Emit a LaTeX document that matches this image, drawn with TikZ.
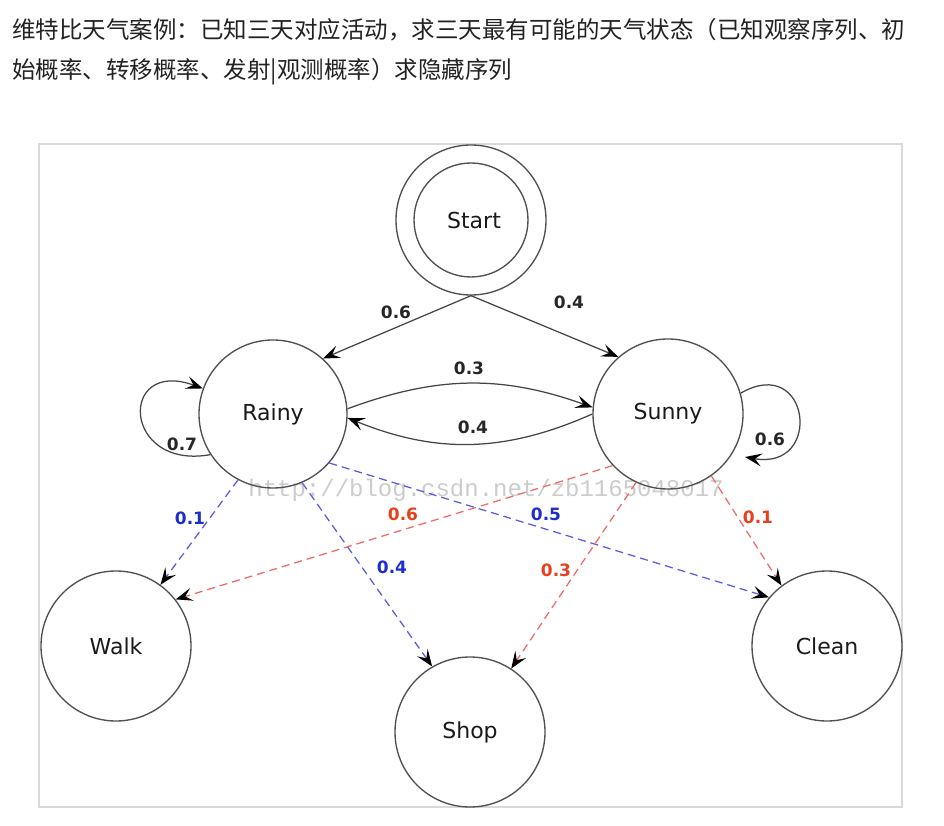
\documentclass[tikz,border=0pt]{standalone}
\usepackage{fontspec}
\setmainfont{DejaVu Sans}
\newfontfamily\cjk{Noto Sans CJK SC}
\newfontfamily\wmfont{Liberation Mono}
\usetikzlibrary{arrows.meta}
\definecolor{circ}{HTML}{505050}
\definecolor{edgec}{HTML}{454545}
\definecolor{blueline}{HTML}{5A5AE6}
\definecolor{redline}{HTML}{F06868}
\definecolor{bluelab}{HTML}{1E2ECC}
\definecolor{redlab}{HTML}{E8401C}
\definecolor{titlec}{HTML}{222222}
\tikzset{
  state/.style={circle, draw=circ, line width=1.35pt, minimum size=150pt, inner sep=0pt,
    font=\fontsize{22}{26}\selectfont, text=black!90},
  tipv/.style={-{Stealth[length=17pt,width=13pt,inset=7pt,color=black]}},
  edge/.style={draw=edgec, line width=1.25pt, tipv},
  blueem/.style={draw=blueline, line width=1.25pt, dash pattern=on 8pt off 5pt, tipv},
  redem/.style={draw=redline, line width=1.25pt, dash pattern=on 8pt off 5pt, tipv},
  lab/.style={inner sep=0pt, font=\fontsize{17}{20}\selectfont\bfseries, text=black!85},
  bluelabel/.style={lab, text=bluelab},
  redlabel/.style={lab, text=redlab},
}
\begin{document}
\begin{tikzpicture}[x=1pt,y=1pt]
\useasboundingbox (0,0) rectangle (944,825);
% title
\node[anchor=west, inner sep=0pt, text=titlec, font=\cjk\fontsize{23.5}{28}\selectfont] (t1) at (12,795)
  {维特比天气案例：已知三天对应活动，求三天最有可能的天气状态（已知观察序列、初};
\node[anchor=west, inner sep=0pt, text=titlec, font=\cjk\fontsize{23.5}{28}\selectfont] (t2) at (12,753)
  {始概率、转移概率、发射|观测概率）求隐藏序列};
% frame
\draw[draw=black!15, line width=1.5pt] (39,18) rectangle (902,681);
% watermark
\node[inner sep=0pt, text=black!20, font=\wmfont\fontsize{24}{24}\selectfont] (wm) at (486,335)
  {http://blog.csdn.net/zb1165048017};
% states
\node[state, minimum size=150pt] (Start) at (471,605) {};
\node[state, minimum size=114pt] (StartIn) at (471,605) {\hspace*{6pt}Start};
\node[state, minimum size=148pt] (Rainy) at (273,411) {Rainy};
\node[state] (Sunny) at (668,411) {Sunny};
\node[state] (Walk) at (116,179) {Walk};
\node[state] (Shop) at (470,93) {Shop};
\node[state] (Clean) at (827,179) {Clean};
% initial
\draw[edge] (Start.south) -- (Rainy.48);
\draw[edge] (Start.south) -- (Sunny.131);
\node[lab] (p0) at (396,513) {0.6};
\node[lab] (p1) at (569,523) {0.4};
% transitions
\draw[edge] (Rainy.4) to[bend left=20] (Sunny.175);
\draw[edge] (Sunny.180) to[bend left=23] (Rainy.-3);
\node[lab] (a01) at (469,457) {0.3};
\node[lab] (a10) at (473,398) {0.4};
% self loops
\draw[edge] (Rainy.213) .. controls +(190:90) and +(160:90) .. (Rainy.160);
\node[lab] (a00) at (182,381) {0.7};
\coordinate (sl) at (745,368);
\draw[edge] (Sunny.16) .. controls +(30:80) and +(-10:80) .. (sl);
\node[lab] (a11) at (770,386) {0.6};
% emissions
\draw[blueem] (Rainy.242) -- (Walk.54);
\draw[blueem] (Rainy.293) -- (Shop.120);
\draw[blueem] (Rainy.-41) -- (Clean.140);
\draw[redem] (Sunny.223) -- (Walk.38);
\draw[redem] (Sunny.245) -- (Shop.57);
\draw[redem] (Sunny.-55) -- (Clean.127);
\node[bluelabel] (b00) at (190,307) {0.1};
\node[bluelabel] (b01) at (392,258) {0.4};
\node[bluelabel] (b02) at (546,311) {0.5};
\node[redlabel] (b10) at (403,311) {0.6};
\node[redlabel] (b11) at (556,255) {0.3};
\node[redlabel] (b12) at (758,308) {0.1};
\end{tikzpicture}
\end{document}
